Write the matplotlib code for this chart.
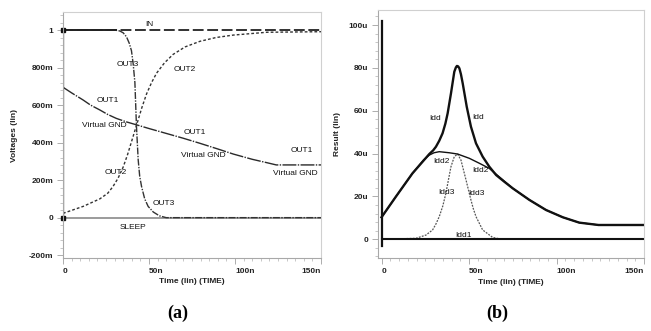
import matplotlib
matplotlib.use("Agg")
import matplotlib.pyplot as plt
from matplotlib.ticker import MultipleLocator

plt.rcParams['font.family'] = ['Liberation Sans', 'DejaVu Sans']

# ---------------- panel (a) data : time in ns, voltage in V ----------------
in_t = [0, 0, 150]
in_v = [0, 1.0, 1.0]

sleep_t = [0, 0, 150]
sleep_v = [-0.15, 0.0, 0.0]

out3_t = [0, 30, 33, 35, 36.9, 38.5, 39.8, 40.8, 41.8, 42.7, 43.7, 44.6, 45.7, 47.5,
          49.5, 52.5, 56, 60, 150]
out3_v = [1.0, 1.0, 0.995, 0.985, 0.964, 0.93, 0.89, 0.82, 0.72, 0.49, 0.31, 0.22,
          0.165, 0.1, 0.06, 0.03, 0.01, 0.0, 0.0]

out2_t = [0, 11.7, 21.4, 26, 29, 32, 35, 37.5, 40, 43, 45.8, 48.6, 51.5, 54.4, 59, 64,
          71, 79.7, 89, 99, 118.5, 150]
out2_v = [0.023, 0.06, 0.10, 0.13, 0.165, 0.21, 0.27, 0.335, 0.41, 0.5, 0.585, 0.66,
          0.72, 0.77, 0.825, 0.87, 0.91, 0.94, 0.96, 0.973, 0.988, 0.991]

out1_t = [0, 5, 11.7, 16, 21.4, 26, 31, 37, 43, 50, 60, 70, 79.7, 90, 99, 110, 118.5, 124, 150]
out1_v = [0.695, 0.665, 0.627, 0.60, 0.574, 0.55, 0.529, 0.51, 0.494, 0.475, 0.449,
          0.423, 0.396, 0.366, 0.339, 0.311, 0.293, 0.281, 0.281]

a_labels = ["IN", "OUT3", "OUT2", "OUT1", "Virtual GND", "OUT1", "Virtual GND",
            "OUT1", "Virtual GND", "OUT2", "OUT3", "SLEEP"]
a_label_t = [50, 37.6, 70.8, 26, 24.3, 76.8, 81.5, 139, 135, 30.7, 58.3, 40.7]
a_label_v = [1.03, 0.815, 0.79, 0.627, 0.49, 0.455, 0.33, 0.357, 0.233, 0.24, 0.073, -0.055]

a_yticks = [-0.2, 0, 0.2, 0.4, 0.6, 0.8, 1.0]
a_yticklabels = ["-200m", "0", "200m", "400m", "600m", "800m", "1"]

# ---------------- panel (b) data : time in ns, current in uA ----------------
spike_t = [0, 0]
spike_i = [-3, 102]

idd_t = [0, 8.2, 17.7, 27.3, 29.5, 31.1, 33, 34.9, 36.5, 37.8, 39.7, 41.6, 42.5, 43.1,
         43.8, 44.5, 45.4, 46.4, 48.7, 51.1, 54, 57.8, 61.6, 65.5, 70, 75, 84.5, 94,
         103.6, 113, 124, 150]
idd_i = [10.3, 19.9, 30.8, 39.8, 41.5, 43.2, 46, 49.5, 54, 58.8, 68.1, 78.2, 80.2,
         80.9, 80.7, 79.8, 77, 72.8, 61.9, 52.6, 44.8, 38.6, 33.9, 30.0, 27, 23.8, 18.4,
         13.7, 10.3, 7.8, 6.7, 6.7]

idd2_t = [0, 8.2, 17.7, 24, 27.3, 30, 33, 38.7, 43.5, 50.2, 55.9, 61.6, 65.5, 75, 84.5,
          94, 103.6, 113, 124, 150]
idd2_i = [10.3, 19.9, 30.8, 37, 39.3, 40.4, 40.9, 40.4, 39.8, 37.8, 35.5, 33.1, 30.4,
          23.8, 18.4, 13.7, 10.3, 7.8, 6.7, 6.7]

idd3_t = [0, 19.7, 25.4, 29.2, 31, 33, 35, 36.8, 38.3, 39.7, 41.6, 43.5, 45.4, 46.8,
          48.3, 49.7, 51.1, 52.5, 54, 57.8, 63.5, 69, 150]
idd3_i = [0, 0.5, 2, 4.4, 7, 10.6, 15.5, 21.5, 28, 33.9, 38.6, 39.8, 37, 32.5, 27.7,
          23, 18.4, 14.2, 10.6, 4.4, 0.9, 0, 0]

idd1_t = [0, 150]
idd1_i = [0, 0]

b_labels = ["Idd", "Idd", "Idd2", "Idd2", "Idd3", "Idd3", "Idd1"]
b_label_t = [30.5, 55, 34.4, 56.3, 37.2, 54, 47]
b_label_i = [56.5, 57, 36.2, 32, 21.8, 21.2, 2]

b_yticks = [0, 20, 40, 60, 80, 100]
b_yticklabels = ["0", "20u", "40u", "60u", "80u", "100u"]

x_ticks = [0, 50, 100, 150]
x_ticklabels = ["0", "50n", "100n", "150n"]

W, H = 651, 331
fig = plt.figure(figsize=(W / 100, H / 100), dpi=100)


def px_axes(l, r, t, b):
    return fig.add_axes([l / W, (H - b) / H, (r - l) / W, (b - t) / H])


def style_axes(ax, yticks, yticklabels, ylabel, ylabel_x):
    for s in ax.spines.values():
        s.set_color("#d0d0d0")
        s.set_linewidth(0.8)
    ax.spines['left'].set_color("#a8a8a8")
    ax.spines['bottom'].set_color("#a8a8a8")
    ax.set_xticks(x_ticks)
    ax.set_xticklabels(x_ticklabels)
    for lab, ha in zip(ax.get_xticklabels(), ["left", "left", "left", "right"]):
        lab.set_ha(ha)
    ax.xaxis.set_minor_locator(MultipleLocator(5))
    ax.set_yticks(yticks)
    ax.set_yticklabels(yticklabels)
    ax.tick_params(axis='both', which='major', length=4, width=0.6, color="#a0a0a0",
                   labelsize=6, pad=3, direction='out')
    ax.tick_params(axis='both', which='minor', length=2, width=0.5, color="#b0b0b0",
                   direction='out')
    for lab in ax.get_xticklabels() + ax.get_yticklabels():
        lab.set_fontweight('bold')
        lab.set_color("#222222")
    ax.set_xlabel("Time (lin) (TIME)", fontsize=6, fontweight='bold', color="#222222")
    ax.xaxis.set_label_coords(0.5, -0.083)
    ax.set_ylabel(ylabel, fontsize=6, fontweight='bold', color="#222222")
    ax.yaxis.set_label_coords(ylabel_x, 0.5)


# ---------------- (a) ----------------
axa = px_axes(63, 321, 12, 258)
axa.set_xlim(0, 150)
axa.set_ylim(-0.215, 1.096)
axa.plot(sleep_t, sleep_v, color="#8a8a8a", lw=1.2, solid_capstyle='butt')
axa.plot(out1_t, out1_v, color="#2a2a2a", lw=1.0, ls=(0, (10, 1, 1, 1)))
axa.plot(out2_t, out2_v, color="#333333", lw=1.0, ls=(0, (2, 1.5)))
axa.plot(out3_t, out3_v, color="#333333", lw=1.0, ls=(0, (5, 1, 1, 1)))
axa.plot(in_t, in_v, color="#222222", lw=1.3, ls=(0, (6, 2)))
axa.plot([0, 31], [1.0, 1.0], color="#222222", lw=1.4)
axa.plot([0, 0], [0, 1.0], color="#111111", lw=1.6)
axa.plot([0, 0], [0, 1.0], ls='none', marker='s', ms=3, color="#111111", clip_on=False)
axa.yaxis.set_minor_locator(MultipleLocator(0.04))
for s, t, v in zip(a_labels, a_label_t, a_label_v):
    axa.text(t, v, s, fontsize=6, ha='center', va='center', color="#111111")
style_axes(axa, a_yticks, a_yticklabels, "Voltages (lin)", -0.175)

# ---------------- (b) ----------------
axb = px_axes(378, 644, 10, 258)
axb.set_xlim(-2, 150)
axb.set_ylim(-8.7, 107)
axb.plot(idd3_t, idd3_i, color="#555555", lw=0.9, ls=(0, (1.5, 1)))
axb.plot(idd2_t, idd2_i, color="#111111", lw=1.0)
axb.plot(idd_t, idd_i, color="#111111", lw=1.7)
axb.plot(idd1_t, idd1_i, color="#111111", lw=1.5)
axb.plot(spike_t, spike_i, color="#111111", lw=1.6)
axb.yaxis.set_minor_locator(MultipleLocator(4))
for s, t, v in zip(b_labels, b_label_t, b_label_i):
    axb.text(t, v, s, fontsize=6, ha='center', va='center', color="#111111")
style_axes(axb, b_yticks, b_yticklabels, "Result (lin)", -0.14)

fig.text(178 / W, 1 - 313 / H, "(a)", fontsize=13, fontweight='bold',
         family=['Liberation Serif', 'DejaVu Serif'], ha='center', va='center')
fig.text(497 / W, 1 - 313 / H, "(b)", fontsize=13, fontweight='bold',
         family=['Liberation Serif', 'DejaVu Serif'], ha='center', va='center')

fig.savefig("out.png", dpi=100)
